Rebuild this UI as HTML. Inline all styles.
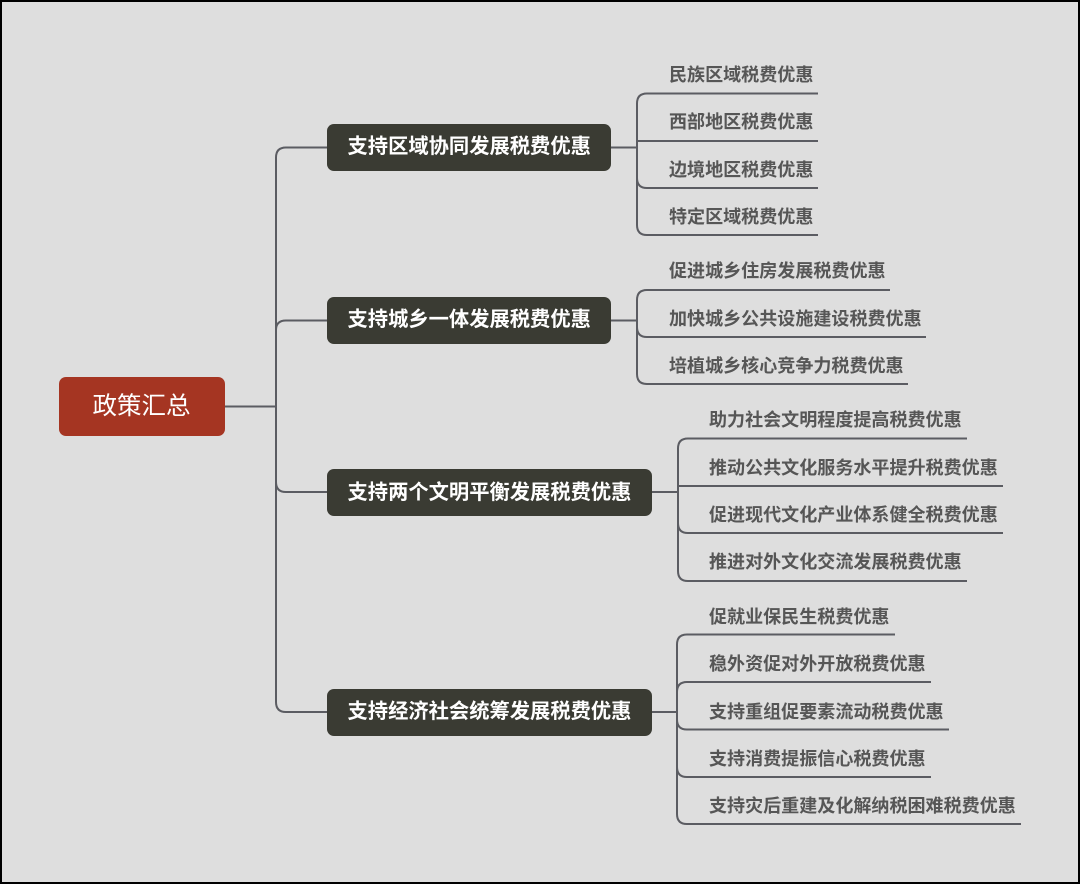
<!DOCTYPE html>
<html lang="zh">
<head>
<meta charset="utf-8">
<style>
html,body{margin:0;padding:0;width:1080px;height:884px;overflow:hidden;background:#dedede}
svg{display:block}
text{font-family:"Liberation Sans","Noto Sans CJK SC",sans-serif}
.l{font-size:18.06px;font-weight:700;fill:#565656}
.b{font-size:20.3px;font-weight:700;fill:#fff}
.r{font-size:24.5px;font-weight:400;fill:#fff}
.soft{filter:blur(.35px)}
</style>
</head>
<body>
<svg width="1080" height="884" viewBox="0 0 1080 884" xmlns="http://www.w3.org/2000/svg">
<rect width="1080" height="884" fill="#000"/>
<rect x="2" y="2" width="1076" height="880" fill="#dedede"/>
<g class="soft">
<g fill="none" stroke="#5b5c62" stroke-width="2">
<path d="M225 406.500H276"/>
<path d="M327 147.500H286Q276 147.500 276 157.500V702Q276 712 286 712H327"/>
<path d="M276 330Q276 320.500 286 320.500H327"/>
<path d="M276 482Q276 492 286 492H327"/>
<path d="M611 147.500H637"/>
<path d="M818 93.500H647Q637 93.500 637 103.500V225Q637 235 647 235H818"/>
<path d="M637 141H818"/>
<path d="M818 188H647Q637 188 637 178"/>
<path d="M611 320.500H637"/>
<path d="M890 290H647Q637 290 637 300V374Q637 384 647 384H908"/>
<path d="M637 327Q637 337 647 337H926"/>
<path d="M652 492H678"/>
<path d="M967 438.500H688Q678 438.500 678 448.500V571Q678 581 688 581H967"/>
<path d="M678 486H1003"/>
<path d="M1003 533H688Q678 533 678 523"/>
<path d="M652 712H677"/>
<path d="M895 634.500H687Q677 634.500 677 644.500V814Q677 824 687 824H1021"/>
<path d="M931 682H687Q677 682 677 692"/>
<path d="M949 729.500H687Q677 729.500 677 719.500"/>
<path d="M931 777H687Q677 777 677 767"/>
</g>
<rect x="59" y="377" width="166" height="59" rx="7" fill="#a53522"/>
<text class="r" x="92.500" y="414">政策汇总</text>
<g fill="#3a3b33">
<rect x="327" y="124" width="284" height="47" rx="7"/>
<rect x="327" y="297" width="284" height="47" rx="7"/>
<rect x="327" y="469" width="325" height="47" rx="7"/>
<rect x="327" y="689" width="325" height="47" rx="7"/>
</g>
<text class="b" x="347.500" y="153">支持区域协同发展税费优惠</text>
<text class="b" x="347.500" y="326">支持城乡一体发展税费优惠</text>
<text class="b" x="347.500" y="499">支持两个文明平衡发展税费优惠</text>
<text class="b" x="347.500" y="718">支持经济社会统筹发展税费优惠</text>
<text class="l" x="669" y="81">民族区域税费优惠</text>
<text class="l" x="669" y="128">西部地区税费优惠</text>
<text class="l" x="669" y="176">边境地区税费优惠</text>
<text class="l" x="669" y="223">特定区域税费优惠</text>
<text class="l" x="669" y="277">促进城乡住房发展税费优惠</text>
<text class="l" x="669" y="325">加快城乡公共设施建设税费优惠</text>
<text class="l" x="669" y="372">培植城乡核心竞争力税费优惠</text>
<text class="l" x="709" y="426">助力社会文明程度提高税费优惠</text>
<text class="l" x="709" y="474">推动公共文化服务水平提升税费优惠</text>
<text class="l" x="709" y="521">促进现代文化产业体系健全税费优惠</text>
<text class="l" x="709" y="568">推进对外文化交流发展税费优惠</text>
<text class="l" x="709" y="623">促就业保民生税费优惠</text>
<text class="l" x="709" y="670">稳外资促对外开放税费优惠</text>
<text class="l" x="709" y="718">支持重组促要素流动税费优惠</text>
<text class="l" x="709" y="765">支持消费提振信心税费优惠</text>
<text class="l" x="709" y="812">支持灾后重建及化解纳税困难税费优惠</text>
</g>
</svg>
</body>
</html>
